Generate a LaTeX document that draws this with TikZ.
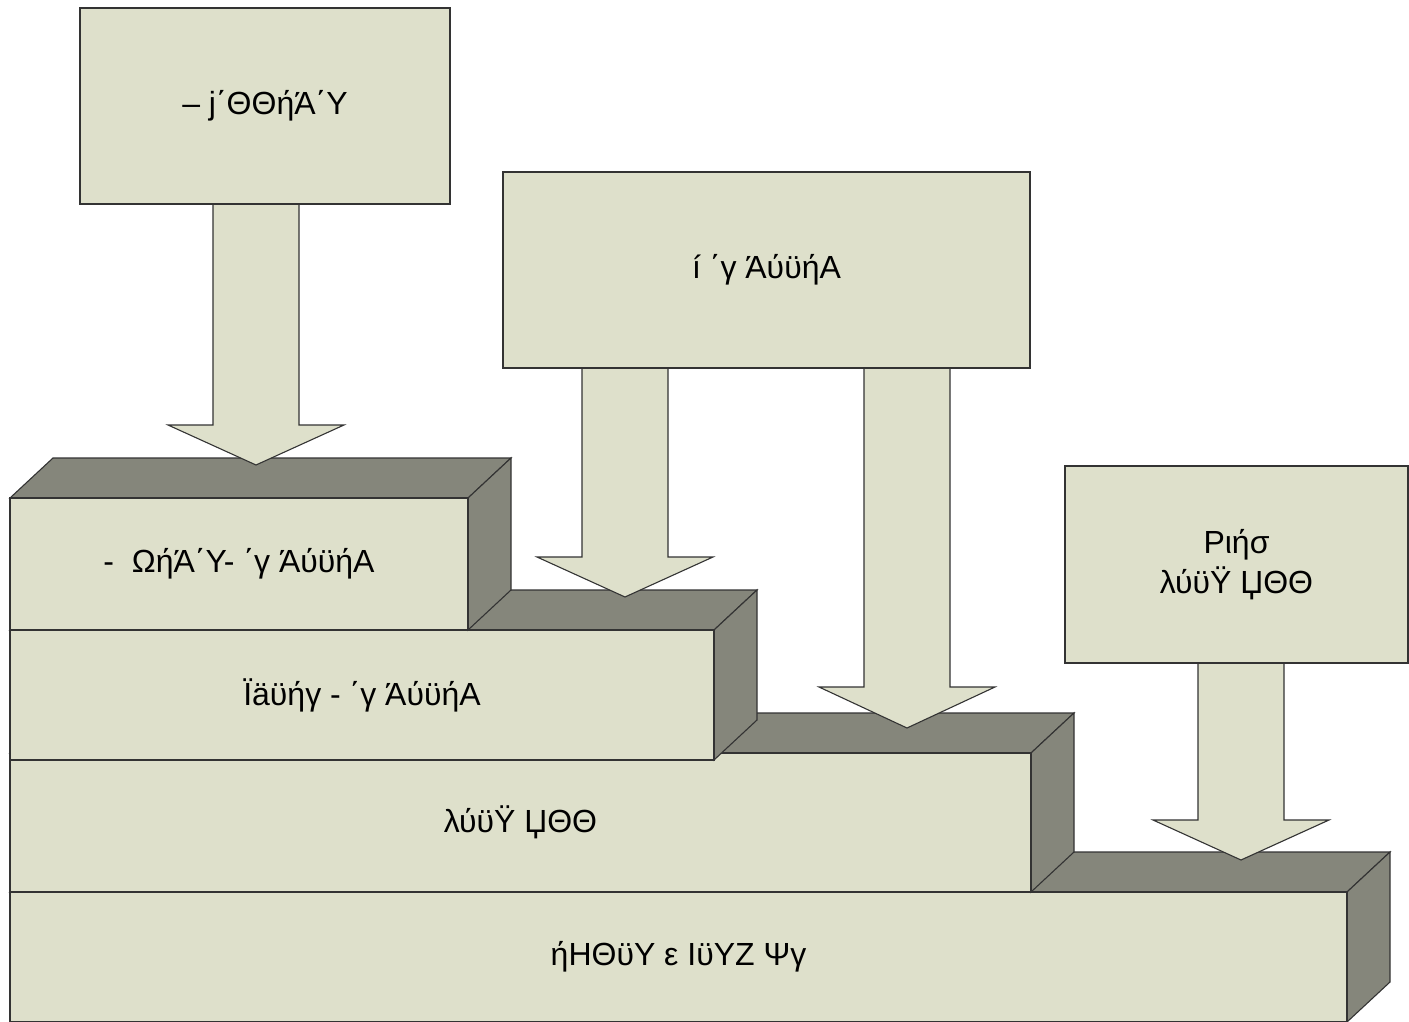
\documentclass[tikz,border=0pt]{standalone}
\usepackage{fontspec}
\setmainfont{Liberation Sans}
\usetikzlibrary{calc}
\definecolor{paleface}{HTML}{DEE0CB}
\definecolor{darkface}{HTML}{85867B}
\definecolor{edge}{HTML}{333333}

% one stair step: name, left x, top y, right x, bottom y, label
\newcommand\stairstep[6]{%
  \draw[shadeface] (#2,#3) -- ++(43,-40) -- (#4+43,#3-40) -- (#4,#3) -- cycle;
  \draw[shadeface] (#4,#3) -- ++(43,-40) -- (#4+43,#5-40) -- (#4,#5) -- cycle;
  \node[face,anchor=north west,minimum width=#4pt-#2pt,minimum height=#5pt-#3pt] (#1) at (#2,#3) {#6};
}
% block arrow: centre x, top y, head base y, tip y
\newcommand\blockarrow[4]{%
  \draw[face] (#1-43,#2) -- (#1-43,#3) -- (#1-88,#3) -- (#1,#4) -- (#1+88,#3)
    -- (#1+43,#3) -- (#1+43,#2);
}

\begin{document}
\begin{tikzpicture}[x=1pt,y=-1pt,
  face/.style={fill=paleface,draw=edge,line width=1.1pt,inner sep=0pt,outer sep=0pt,
    font=\fontsize{32}{40}\selectfont,align=center},
  shadeface/.style={fill=darkface,draw=edge,line width=1.1pt,line join=miter}]
\useasboundingbox (0,0) rectangle (1409,1022);

% stairs, lowest first so each higher step sits over the one below
\stairstep{s4}{10}{892}{1347}{1022}{ήΗΘϋΥ ε ΙϋΥΖ Ψγ}
\stairstep{s3}{10}{753}{1031}{892}{λύϋΫ ЏΘΘ}
\stairstep{s2}{10}{630}{714}{760}{Ïäϋήγ - ΄γ ΆύϋήΑ}
\stairstep{s1}{10}{498}{468}{630}{-\ \ ΩήΆ΄Y- ΄γ ΆύϋήΑ}

% arrows from the boxes down onto the steps
\blockarrow{256}{204}{425}{465}
\blockarrow{625}{368}{557}{597}
\blockarrow{907}{368}{687}{728}
\blockarrow{1241}{663}{820}{860}

% source boxes
\node[face,anchor=north west,minimum width=370pt,minimum height=196pt] (b1) at (80,8) {– j΄ΘΘήΆ΄Y};
\node[face,anchor=north west,minimum width=527pt,minimum height=196pt] (b2) at (503,172) {í ΄γ ΆύϋήΑ};
\node[face,anchor=north west,minimum width=343pt,minimum height=197pt] (b3) at (1065,466) {Pιήσ\\λύϋΫ ЏΘΘ};
\end{tikzpicture}
\end{document}
